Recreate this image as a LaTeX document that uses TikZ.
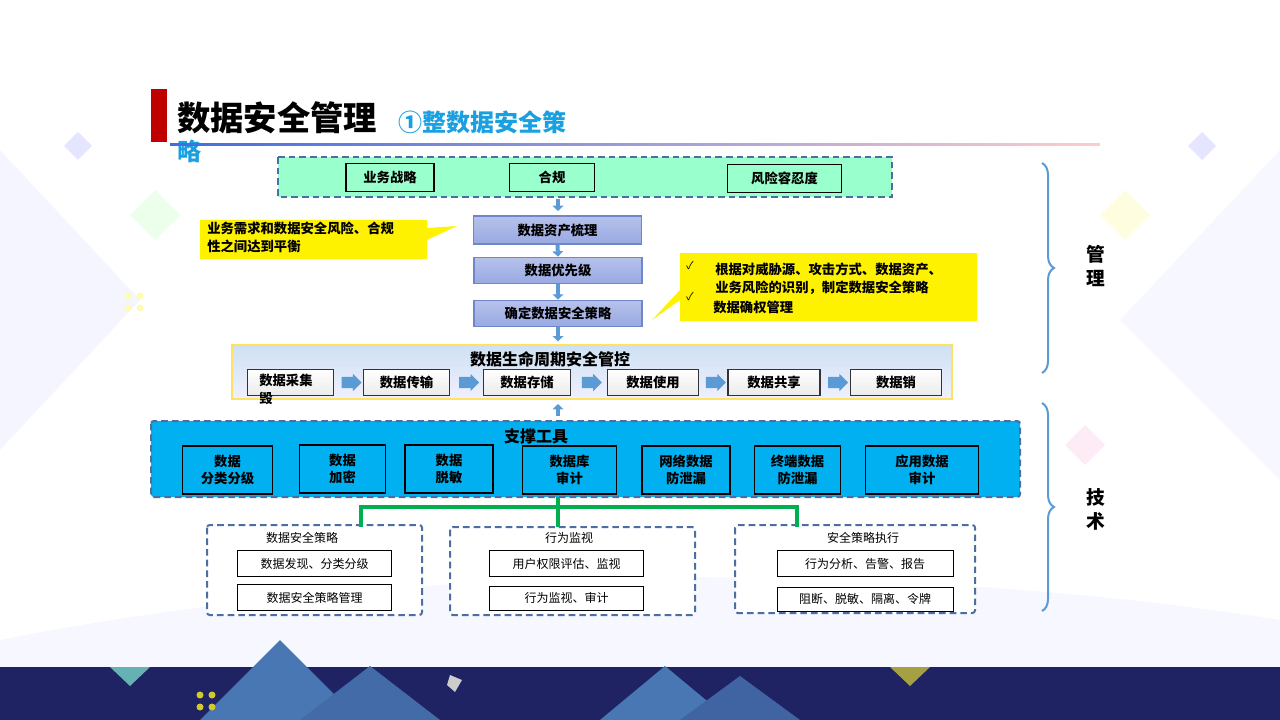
\documentclass[tikz,border=0pt]{standalone}
\usepackage{fontspec}
\setmainfont{Noto Sans CJK SC}
\usetikzlibrary{arrows.meta,decorations.pathreplacing,shapes.arrows}
\definecolor{navy}{HTML}{1F2263}
\definecolor{dashb}{HTML}{4A6FA0}
\definecolor{mint}{HTML}{99FFCC}
\definecolor{cyanb}{HTML}{00B0F0}
\definecolor{arr}{HTML}{5B9BD5}
\definecolor{pbox}{HTML}{98A8E2}
\definecolor{pborder}{HTML}{6F86C9}
\definecolor{ttl}{HTML}{1AA0E0}
\definecolor{grn}{HTML}{00B050}
\tikzset{
 box/.style={draw=black,line width=0.8pt,inner sep=0pt,font=\bfseries\fontsize{10}{12}\selectfont,align=center},
 pbx/.style={draw=pborder,line width=0.8pt,top color=pbox!70!white,bottom color=pbox,inner sep=0pt,font=\bfseries\fontsize{10}{12}\selectfont},
 lc/.style={draw=black!80,line width=0.8pt,top color=white,bottom color=black!8,inner sep=0pt,font=\bfseries\fontsize{10}{12}\selectfont,align=left},
 sb/.style={draw=black,line width=0.8pt,fill=cyanb,inner sep=0pt,font=\bfseries\fontsize{10}{13}\selectfont,align=center},
 wb/.style={draw=black,line width=0.7pt,fill=white,inner sep=0pt,font=\fontsize{9}{11}\selectfont},
 dbox/.style={draw=dashb,line width=1.5pt,dash pattern=on 5pt off 3pt,rounded corners=2pt},
 darr/.style={arr,line width=3pt,-{Triangle[length=4pt,width=8pt]}},
 rarr/.style={single arrow,fill=arr,draw=none,minimum width=13pt,single arrow head extend=1.5pt,single arrow head indent=0pt,minimum height=15pt,inner sep=2.5pt},
 brace/.style={arr,line width=1.5pt,decorate,decoration={brace,amplitude=9pt}},
}
\begin{document}
\begin{tikzpicture}[x=0.75pt,y=-0.75pt]
\useasboundingbox (0,0) rectangle (1280,720);
% background decoration
\fill[blue!4] (0,150) -- (140,300) -- (0,450) -- cycle;
\fill[blue!3] (1280,150) -- (1120,320) -- (1280,480) -- cycle;
\fill[green!8] (155,190) -- (180,215) -- (155,240) -- (130,215) -- cycle;
\fill[yellow!12] (1125,190) -- (1150,215) -- (1125,240) -- (1100,215) -- cycle;
\fill[blue!10] (78,132) -- (92,146) -- (78,160) -- (64,146) -- cycle;
\fill[blue!10] (1202,132) -- (1216,146) -- (1202,160) -- (1188,146) -- cycle;
\fill[magenta!8] (1085,425) -- (1105,445) -- (1085,465) -- (1065,445) -- cycle;
\fill[blue!3] (0,640) .. controls (400,560) and (900,560) .. (1280,620) -- (1280,667) -- (0,667) -- cycle;
\fill[navy] (0,667) rectangle (1280,720);
\fill[arr!70!navy] (200,720) -- (280,640) -- (360,720) -- cycle;
\fill[arr!60!navy] (300,720) -- (370,666) -- (440,720) -- cycle;
\fill[arr!70!navy] (600,720) -- (665,666) -- (730,720) -- cycle;
\fill[arr!55!navy] (680,720) -- (740,676) -- (800,720) -- cycle;
\fill[teal!60] (110,667) -- (130,686) -- (150,667) -- cycle;
\fill[yellow!60!black] (890,667) -- (910,686) -- (930,667) -- cycle;
\fill[gray!40] (450,675) -- (462,680) -- (455,692) -- (447,685) -- cycle;
\foreach \p in {(200,695),(212,695),(200,707),(212,707)} \fill[yellow!80!black] \p circle (3.5);
\foreach \p in {(128,296),(140,296),(128,308),(140,308)} \fill[yellow!30] \p circle (3.5);
% title
\fill[red!75!black] (151,89) rectangle (167,142);
\node[anchor=west,inner sep=0pt,font=\bfseries\fontsize{25}{28}\selectfont] (t1) at (177,118) {数据安全管理};
\node[anchor=west,inner sep=0pt,text=ttl,font=\bfseries\fontsize{18}{20}\selectfont] (t2) at (398,122) {①整数据安全策};
\node[anchor=west,inner sep=0pt,text=ttl,font=\bfseries\fontsize{18}{20}\selectfont] (t3) at (177,151) {略};
\shade[left color=arr!70!blue,right color=red!20] (170,144) rectangle (1100,146);
% top green
\draw[dbox,fill=mint,rounded corners=0pt] (278,157) rectangle (892,197);
\node[box,minimum width=66pt,minimum height=21pt] (b1) at (390,177.5) {业务战略};
\node[box,minimum width=64pt,minimum height=21pt] (b2) at (552,177.5) {合规};
\node[box,minimum width=86pt,minimum height=21pt] (b3) at (784.5,178.5) {风险容忍度};
\coordinate (g) at (558,199);
% purple chain
\node[pbx,minimum width=126pt,minimum height=21pt] (p1) at (557.5,230) {数据资产梳理};
\node[pbx,minimum width=126pt,minimum height=20pt] (p2) at (558,270.5) {数据优先级};
\node[pbx,minimum width=126pt,minimum height=20pt] (p3) at (558,313.5) {确定数据安全策略};
\draw[darr] (g) -- ++(0,12);
\draw[darr] (p1.south) -- (p2.north);
\draw[darr] (p2.south) -- (p3.north);
% callouts
\fill[yellow] (200,220) -- (427,220) -- (427,228) -- (457,226) -- (427,240) -- (427,259) -- (200,259) -- cycle;
\node[anchor=north west,inner sep=0pt,align=left,font=\bfseries\fontsize{10}{13.5}\selectfont] (c1) at (207,222) {业务需求和数据安全风险、合规\\性之间达到平衡};
\fill[yellow] (680,253) -- (977,253) -- (977,321) -- (680,321) -- (680,300) -- (652,320) -- (680,290) -- cycle;
\node[anchor=north west,inner sep=0pt,align=left,font=\bfseries\fontsize{10}{13.5}\selectfont] (c2) at (715,263) {根据对威胁源、攻击方式、数据资产、\\业务风险的识别，制定数据安全策略};
\node[anchor=north west,inner sep=0pt,font=\bfseries\fontsize{10}{13}\selectfont] (c3) at (713,301) {数据确权管理};
\node[inner sep=0pt,font=\fontsize{8}{9}\selectfont] (k1) at (690,266) {✓};
\node[inner sep=0pt,font=\fontsize{8}{9}\selectfont] (k2) at (690,297) {✓};
% lifecycle
\draw[draw=yellow!70!orange!60,top color=arr!30,bottom color=blue!6,line width=0.8pt] (232,345) rectangle (952,399);
\node[inner sep=0pt,font=\bfseries\fontsize{12}{14}\selectfont] (lt) at (550,359) {数据生命周期安全管控};
\draw[darr] (p3.south) -- ++(0,14);
\node[lc,minimum width=65pt,minimum height=20pt] (l1) at (290.5,382.5) {};
\node[anchor=north west,inner sep=0pt,align=left,font=\bfseries\fontsize{10}{13}\selectfont] (l1t) at (259,374) {数据采集\\毁};
\node[lc,minimum width=64pt,minimum height=20pt] (l2) at (406.5,382.5) {数据传输};
\node[lc,minimum width=65pt,minimum height=20pt] (l3) at (527,382.5) {数据存储};
\node[lc,minimum width=68pt,minimum height=20pt] (l4) at (653,382.5) {数据使用};
\node[lc,minimum width=69pt,minimum height=20pt] (l5) at (774,382.5) {数据共享};
\node[lc,minimum width=68pt,minimum height=20pt] (l6) at (896,382.5) {数据销};
\foreach \a/\b in {l1/l2,l2/l3,l3/l4,l4/l5,l5/l6}
  \path (\a.east) -- (\b.west) node[midway,rarr] {};
% support tools
\draw[dbox,fill=cyanb] (151,421) rectangle (1020,497);
\node[inner sep=0pt,font=\bfseries\fontsize{12}{14}\selectfont] (st) at (536,436) {支撑工具};
\draw[darr] (558,416) -- ++(0,-12);
\node[sb,minimum width=68pt,minimum height=36pt] (s1) at (227.5,470) {数据\\分类分级};
\node[sb,minimum width=65pt,minimum height=36pt] (s2) at (342.5,469) {数据\\加密};
\node[sb,minimum width=66pt,minimum height=36pt] (s3) at (449,469) {数据\\脱敏};
\node[sb,minimum width=70pt,minimum height=36pt] (s4) at (569.5,470) {数据库\\审计};
\node[sb,minimum width=66pt,minimum height=36pt] (s5) at (686,470) {网络数据\\防泄漏};
\node[sb,minimum width=65pt,minimum height=36pt] (s6) at (797.5,470) {终端数据\\防泄漏};
\node[sb,minimum width=85pt,minimum height=36pt] (s7) at (922,470) {应用数据\\审计};
% bottom groups
\draw[dbox,fill=white] (207,525) rectangle (422,615);
\draw[dbox,fill=white] (450,527) rectangle (695,615);
\draw[dbox,fill=white] (735,525) rectangle (975,613);
\coordinate (q1) at (361,527);
\coordinate (q2) at (558,527);
\coordinate (q3) at (797,527);
\coordinate (hub) at (558,497);
\draw[grn,line width=2.5pt] (hub) -- (q2);
\draw[grn,line width=2.5pt] (q1) -- (361,507) -- (797,507) -- (q3);
\node[inner sep=0pt,font=\fontsize{9}{11}\selectfont] (gt1) at (302,538) {数据安全策略};
\node[inner sep=0pt,font=\fontsize{9}{11}\selectfont] (gt2) at (569,538) {行为监视};
\node[inner sep=0pt,font=\fontsize{9}{11}\selectfont] (gt3) at (863,538) {安全策略执行};
\node[wb,minimum width=116pt,minimum height=19pt] (w1) at (314.5,563.5) {数据发现、分类分级};
\node[wb,minimum width=116pt,minimum height=19pt] (w2) at (314.5,597.5) {数据安全策略管理};
\node[wb,minimum width=116pt,minimum height=19pt] (w3) at (566.5,563.5) {用户权限评估、监视};
\node[wb,minimum width=116pt,minimum height=18pt] (w4) at (566.5,598) {行为监视、审计};
\node[wb,minimum width=132pt,minimum height=19pt] (w5) at (865,563.5) {行为分析、告警、报告};
\node[wb,minimum width=132pt,minimum height=18pt] (w6) at (865,599) {阻断、脱敏、隔离、令牌};
% braces
\coordinate (br1a) at (1042,163);
\coordinate (br1b) at (1042,373);
\coordinate (br2a) at (1042,403);
\coordinate (br2b) at (1042,611);
\draw[brace] (br1a) -- (br1b);
\draw[brace] (br2a) -- (br2b);
\node[inner sep=0pt,align=center,font=\bfseries\fontsize{14}{18}\selectfont] (m1) at (1096,266) {管\\理};
\node[inner sep=0pt,align=center,font=\bfseries\fontsize{14}{18}\selectfont] (m2) at (1096,509) {技\\术};
\end{tikzpicture}
\end{document}
